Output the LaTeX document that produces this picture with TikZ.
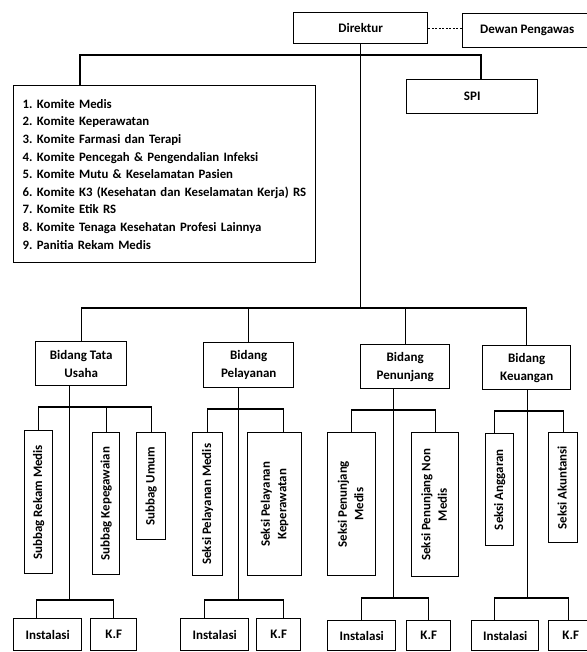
\documentclass[tikz,border=0pt]{standalone}
\usepackage{fontspec}
\setmainfont{Carlito}
\usepackage{graphicx}
\frenchspacing
\newcommand\vtext[1]{\rotatebox{90}{\begin{tabular}{@{}c@{}}#1\end{tabular}}}
\begin{document}
\begin{tikzpicture}[x=1pt,y=-1pt,
  box/.style={draw, line width=1.4pt, inner sep=0pt, align=center, anchor=north west,
    font=\bfseries\fontsize{13}{18}\selectfont},
  vbox/.style={box, font=\bfseries\fontsize{12.9}{16.5}\selectfont},
  conn/.style={line width=1.4pt}]
\useasboundingbox (0,0) rectangle (586,652);
% top level
\node[box, minimum width=134pt, minimum height=31pt] (dir) at (293,12) {Direktur};
\node[box, minimum width=129pt, minimum height=34pt] (dewan) at (462,13) {Dewan Pengawas};
\node[box, minimum width=131pt, minimum height=34pt] (spi) at (406,79) {SPI};
\node[box, align=left, text width=284pt, inner xsep=9pt, minimum height=177pt,
  font=\bfseries\fontsize{12.8}{17.6}\selectfont] (kom) at (13,85)
  {1. Komite Medis\\
   2. Komite Keperawatan\\
   3. Komite Farmasi dan Terapi\\
   4. Komite Pencegah \& Pengendalian Infeksi\\
   5. Komite Mutu \& Keselamatan Pasien\\
   6. Komite K3 (Kesehatan dan Keselamatan Kerja) RS\\
   7. Komite Etik RS\\
   8. Komite Tenaga Kesehatan Profesi Lainnya\\
   9. Panitia Rekam Medis};
% bidang
\node[box, minimum width=91pt, minimum height=44pt] (tu) at (35,341) {Bidang Tata\\Usaha};
\node[box, minimum width=90pt, minimum height=45pt] (pel) at (203,342) {Bidang\\Pelayanan};
\node[box, minimum width=89pt, minimum height=44pt] (pen) at (360,344) {Bidang\\Penunjang};
\node[box, minimum width=88pt, minimum height=44pt] (keu) at (482,345) {Bidang\\Keuangan};
% sub units
\node[vbox, minimum width=28pt, minimum height=143pt] (srm) at (24,430) {\vtext{Subbag Rekam Medis}};
\node[vbox, minimum width=27pt, minimum height=142pt] (skp) at (92,432) {\vtext{Subbag Kepegawaian}};
\node[vbox, minimum width=29pt, minimum height=107pt] (sum) at (136,432) {\vtext{Subbag Umum}};
\node[vbox, minimum width=30pt, minimum height=143pt] (spm) at (192,432) {\vtext{Seksi Pelayanan Medis}};
\node[vbox, minimum width=54pt, minimum height=143pt] (spk) at (247,432) {\vtext{Seksi Pelayanan\\Keperawatan}};
\node[vbox, minimum width=48pt, minimum height=143pt] (spenm) at (327,432) {\vtext{Seksi Penunjang\\Medis}};
\node[vbox, minimum width=47pt, minimum height=144pt] (spnm) at (411,432) {\vtext{Seksi Penunjang Non\\Medis}};
\node[vbox, minimum width=28pt, minimum height=112pt] (sang) at (485,433) {\vtext{Seksi Anggaran}};
\node[vbox, minimum width=29pt, minimum height=110pt] (sakun) at (548,432) {\vtext{Seksi Akuntansi}};
% bottom row
\node[box, minimum width=68pt, minimum height=32pt] (i1) at (13,618) {Instalasi};
\node[box, minimum width=46pt, minimum height=32pt] (k1) at (90,618) {K.F};
\node[box, minimum width=68pt, minimum height=32pt] (i2) at (180,618) {Instalasi};
\node[box, minimum width=44pt, minimum height=32pt] (k2) at (256,618) {K.F};
\node[box, minimum width=68pt, minimum height=30pt] (i3) at (327,620) {Instalasi};
\node[box, minimum width=44pt, minimum height=30pt] (k3) at (406,620) {K.F};
\node[box, minimum width=67pt, minimum height=30pt] (i4) at (471,620) {Instalasi};
\node[box, minimum width=44pt, minimum height=30pt] (k4) at (548,620) {K.F};
% connectors top
\draw[line width=1.2pt, dash pattern=on 2pt off 1.5pt] (dir.east) -- (dir.east -| dewan.west);
\coordinate (kT) at (80,55);
\coordinate (sT) at (481,55);
\draw[conn] (kT |- kom.north) -- (kT) -- (sT) -- (sT |- spi.north);
\coordinate (bY) at (0,308);
\draw[conn] (dir.south) -- (dir.south |- bY);
\draw[conn] (tu.north) -- (tu.north |- bY) -- (keu.north |- bY) -- (keu.north);
\draw[conn] (pel.north) -- (pel.north |- bY);
\draw[conn] (pen.north) -- (pen.north |- bY);
% Tata Usaha
\coordinate (tuT) at ([xshift=-11.5pt]tu.south);
\coordinate (tuS) at (0,407);
\coordinate (tuB) at (0,600);
\draw[conn] (tuT) -- (tuT |- tuB);
\draw[conn] (srm.north) -- (srm.north |- tuS) -- (sum.north |- tuS) -- (sum.north);
\draw[conn] (skp.north) -- (skp.north |- tuS);
\coordinate (i1T) at ([xshift=-11pt]i1.north);
\draw[conn] (i1T) -- (i1T |- tuB) -- (k1.north |- tuB) -- (k1.north);
% Pelayanan
\coordinate (pelT) at ([xshift=-10pt]pel.south);
\coordinate (pelS) at (0,409);
\coordinate (pelB) at (0,600);
\draw[conn] (pelT) -- (pelT |- pelB);
\coordinate (spkT) at ([xshift=9pt]spk.north);
\draw[conn] (spm.north) -- (spm.north |- pelS) -- (spkT |- pelS) -- (spkT);
\coordinate (i2T) at ([xshift=-10pt]i2.north);
\coordinate (k2T) at ([xshift=5pt]k2.north);
\draw[conn] (i2T) -- (i2T |- pelB) -- (k2T |- pelB) -- (k2T);
% Penunjang
\coordinate (penT) at ([xshift=-11.5pt]pen.south);
\coordinate (penS) at (0,410);
\coordinate (penB) at (0,598);
\draw[conn] (penT) -- (penT |- penB);
\draw[conn] (spenm.north) -- (spenm.north |- penS) -- (spnm.north |- penS) -- (spnm.north);
\draw[conn] (i3.north) -- (i3.north |- penB) -- (k3.north |- penB) -- (k3.north);
% Keuangan
\coordinate (keuT) at ([xshift=1pt]keu.south);
\coordinate (keuS) at (0,411);
\coordinate (keuB) at (0,598);
\draw[conn] (keuT) -- (keuT |- keuB);
\coordinate (sangT) at ([xshift=-5pt]sang.north);
\draw[conn] (sangT) -- (sangT |- keuS) -- (sakun.north |- keuS) -- (sakun.north);
\coordinate (i4T) at ([xshift=-10.5pt]i4.north);
\coordinate (k4T) at ([xshift=-2pt]k4.north);
\draw[conn] (i4T) -- (i4T |- keuB) -- (k4T |- keuB) -- (k4T);
\end{tikzpicture}
\end{document}
